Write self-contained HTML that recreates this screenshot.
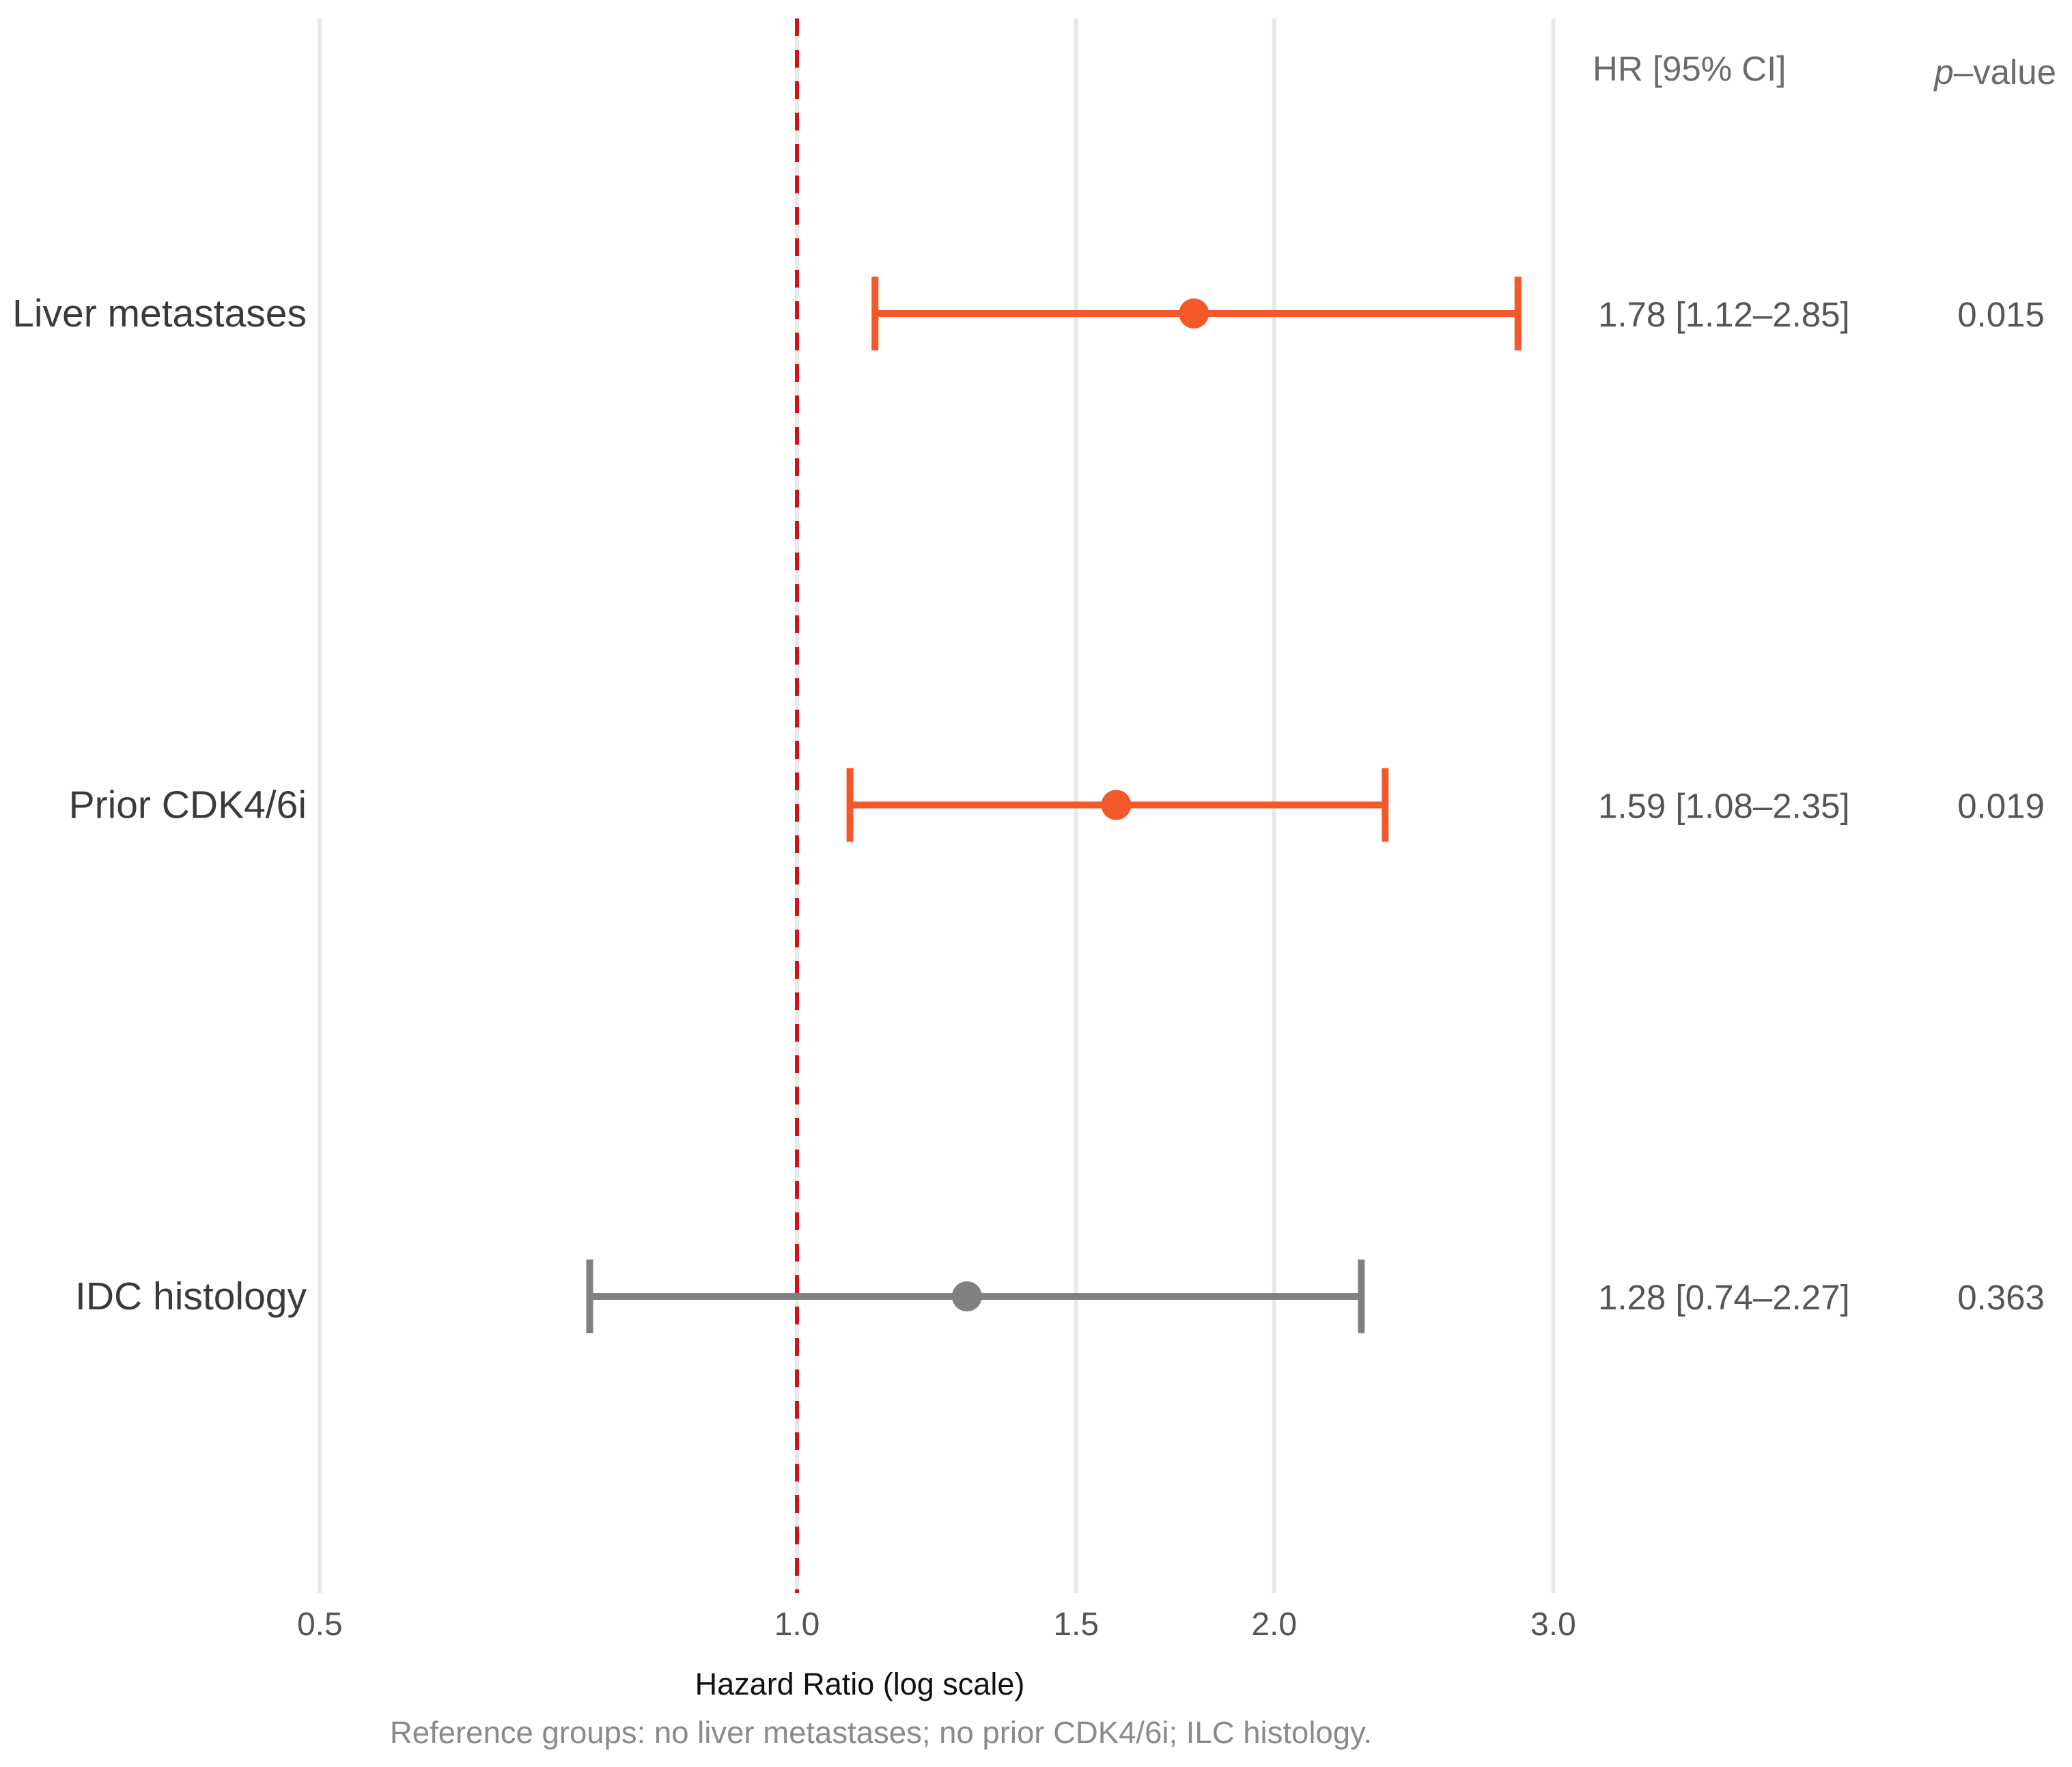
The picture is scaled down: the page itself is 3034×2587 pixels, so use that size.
<!DOCTYPE html>
<html><head><meta charset="utf-8"><style>
html,body{margin:0;padding:0;background:#fff;}
svg{display:block;font-family:"Liberation Sans",sans-serif;}
</style></head><body>
<svg id="chart" width="3034" height="2587" viewBox="0 0 3034 2587">
<g id="grid"></g>
<g id="refline"></g>
<g id="marks"></g>
<g id="labels"></g>
<text x="2332" y="118" font-size="51" fill="#6b6b6b">HR [95% CI]</text>
<text x="3011" y="123" font-size="51" fill="#6b6b6b" text-anchor="end"><tspan font-style="italic">p</tspan>–value</text>
<text x="1259" y="2481" font-size="45" fill="#111" text-anchor="middle">Hazard Ratio (log scale)</text>
<text x="1290" y="2552" font-size="45.5" fill="#8a8a8a" text-anchor="middle">Reference groups: no liver metastases; no prior CDK4/6i; ILC histology.</text>
</svg>
<script>
const categories = ["Liver metastases", "Prior CDK4/6i", "IDC histology"];
const hrValues = [1.78, 1.59, 1.28];
const lowerCI = [1.12, 1.08, 0.74];
const upperCI = [2.85, 2.35, 2.27];
const pValues = ["0.015", "0.019", "0.363"];
const significant = [true, true, false];
const tickValues = [0.5, 1.0, 1.5, 2.0, 3.0];
const tickLabels = ["0.5", "1.0", "1.5", "2.0", "3.0"];

const NS = "http://www.w3.org/2000/svg";
function xScale(v){ return 1167 + 1008 * Math.log(v); }
function yScale(i){ return 459 + i * 719.5; }
function mk(tag, attrs, parent){
  const e = document.createElementNS(NS, tag);
  for (const k in attrs) e.setAttribute(k, attrs[k]);
  parent.appendChild(e);
  return e;
}
const grid = document.getElementById('grid');
const marks = document.getElementById('marks');
const labels = document.getElementById('labels');
const ref = document.getElementById('refline');

tickValues.forEach((v, i) => {
  const x = xScale(v);
  const l = mk('line', {x1:x, x2:x, y1:27, y2:2332, stroke:'#e8e8e8', 'stroke-width':6}, grid);
  
  
  const t = mk('text', {x:x, y:2394, 'font-size':48, fill:'#555', 'text-anchor':'middle'}, grid);
  t.textContent = tickLabels[i];
  
  
});

const rl = mk('line', {x1:xScale(1), x2:xScale(1), y1:27, y2:2332, stroke:'#d0121b', 'stroke-width':6, 'stroke-dasharray':'26 20'}, ref);



categories.forEach((c, i) => {
  const y = yScale(i);
  const col = significant[i] ? '#f4572a' : '#808080';
  const g = mk('g', {}, marks);
  
  
  const x1 = xScale(lowerCI[i]), x2 = xScale(upperCI[i]);
  const ln = mk('line', {x1:x1, x2:x2, y1:y, y2:y, stroke:col, 'stroke-width':10}, g);
  
  
  [x1, x2].forEach(x => {
    const cap = mk('line', {x1:x, x2:x, y1:y-54, y2:y+54, stroke:col, 'stroke-width':10}, g);
    
    
  });
  const pt = mk('circle', {cx:xScale(hrValues[i]), cy:y, r:22, fill:col}, g);
  
  

  const lab = mk('text', {x:449, y:y+19, 'font-size':57, fill:'#3a3a3a', 'text-anchor':'end'}, labels);
  lab.textContent = c;
  
  
  const hr = mk('text', {x:2340, y:y+19, 'font-size':51, fill:'#555'}, labels);
  hr.textContent = hrValues[i].toFixed(2) + ' [' + lowerCI[i].toFixed(2) + '–' + upperCI[i].toFixed(2) + ']';
  
  
  const p = mk('text', {x:2930, y:y+19, 'font-size':51, fill:'#555', 'text-anchor':'middle'}, labels);
  p.textContent = pValues[i];
  
  
});
</script>
</body></html>
